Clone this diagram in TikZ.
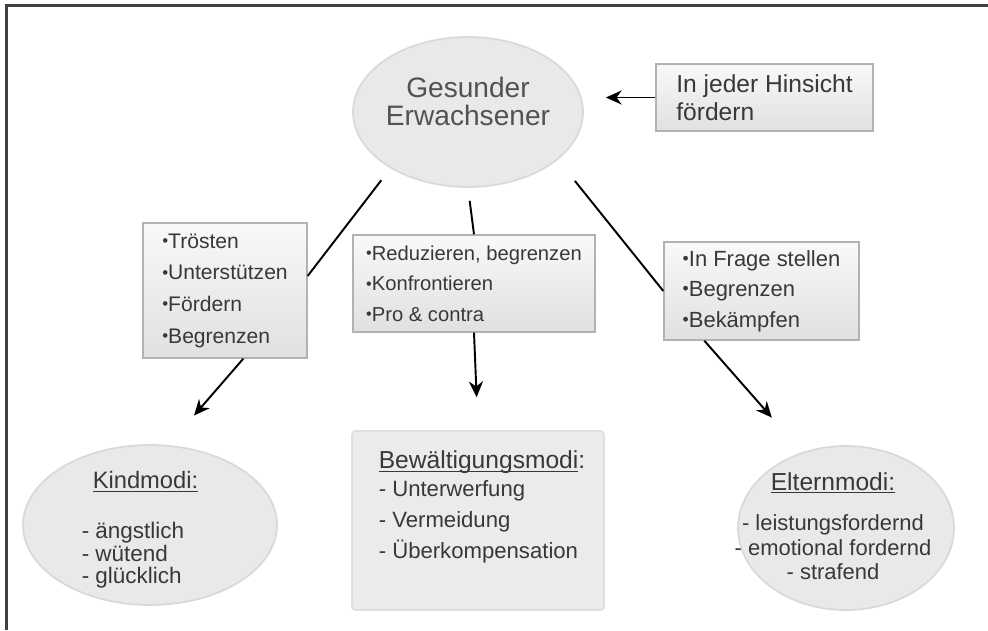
\documentclass[tikz,border=0pt]{standalone}
\usepackage{fontspec}
\setmainfont{Liberation Sans}
\usepackage{tikz}
\usetikzlibrary{
	arrows.meta,
	calc,
	positioning,
	shapes,
	shadows,
	}
\newcommand{\bul}{\raisebox{0.08em}{\scalebox{0.8}{•}}}
\newcommand{\unter}[1]{\underline{\raisebox{0pt}[\height][0pt]{#1}}}

\begin{document}
\begin{tikzpicture}[x=0.02cm, y=-0.02cm,
	blase/.style={draw=gray!30, line width=1pt, fill=gray!17, ellipse},
	kasten/.style={draw=gray!60, line width=0.8pt, top color=gray!5, bottom color=gray!24, align=left, text=black!78,
		drop shadow={shadow xshift=0.6pt, shadow yshift=-0.6pt, fill=black!55, opacity=0.8}},
	schrift/.style={text=black!78, inner sep=0pt},
	linie/.style={-, line width=1.1pt},
	pfeil/.style={-{Stealth[length=9pt, width=8pt]}, line width=1.1pt},
	]
			\useasboundingbox (0,0) rectangle (988,630);
			\draw[black!75, line width=1.2pt] (6.5,630) -- (6.5,5.5) -- (988,5.5);
			\node[blase, minimum width=4.6cm, minimum height=3cm] (ge) at (468,112) {};
			\node[schrift, align=center, font=\fontsize{16}{16}\selectfont, text=black!68] (getext) at ([yshift=0.22cm]ge.center) {Gesunder\\Erwachsener};
			\node[kasten, minimum width=4.34cm, minimum height=1.34cm, font=\fontsize{14}{16}\selectfont] (hin) at (764.5,97.5) {In jeder Hinsicht\\fördern};
			\node[kasten, minimum width=3.28cm, minimum height=2.7cm, font=\fontsize{12}{18}\selectfont] (links) at (225,290.5) {\bul Trösten\\\bul Unterstützen\\\bul Fördern\\\bul Begrenzen};
			\node[kasten, minimum width=4.84cm, minimum height=1.94cm, font=\fontsize{11.5}{17.3}\selectfont] (mitte) at (474,283.5) {\bul Reduzieren, begrenzen\\\bul Konfrontieren\\\bul Pro \& contra};
			\node[kasten, minimum width=3.9cm, minimum height=1.96cm, font=\fontsize{12.5}{17.3}\selectfont] (rechts) at (761.5,291) {\bul In Frage stellen\\\bul Begrenzen\\\bul Bekämpfen};
			\node[blase, minimum width=5.08cm, minimum height=3.2cm] (kind) at (150,525) {};
			\node[schrift, align=left, font=\fontsize{12.8}{12.8}\selectfont] (kindtext) at ([xshift=-0.2cm, yshift=-0.1cm]kind.center) {\hspace*{0.22cm}{\fontsize{13.5}{12.8}\selectfont\unter{Kindmodi:}}\\[15.5pt]- ängstlich\\- wütend\\- glücklich};
			\node[draw=gray!25, line width=1pt, fill=gray!16, rounded corners=2pt, minimum width=5.04cm, minimum height=3.58cm] (bew) at (478,520.5) {};
			\node[schrift, align=left, font=\fontsize{12.6}{17.6}\selectfont] (bewtext) at ([xshift=0.08cm, yshift=0.27cm]bew.center) {{\fontsize{14}{17.6}\selectfont\unter{Bewältigungsmodi}:}\\[-1.7pt]- Unterwerfung\\- Vermeidung\\- Überkompensation};
			\node[blase, minimum width=4.32cm, minimum height=3.28cm] (eltern) at (846,528) {};
			\node[schrift, align=center, font=\fontsize{12.5}{13.9}\selectfont] (elterntext) at ([xshift=-0.26cm, yshift=0.04cm]eltern.center) {{\fontsize{14}{13.9}\selectfont\unter{Elternmodi:}}\\[9.3pt]- leistungsfordernd\\- emotional fordernd\\- strafend};
			\draw[pfeil, shorten >=0.44cm] (hin.west) -- (ge.east |- hin.west);
			\draw[linie, shorten <=0.3cm] (ge.216) -- (links.10);
			\draw[linie, shorten <=0.26cm] (ge.south) -- (mitte.north);
			\draw[linie, shorten <=0.54cm] (ge.-28) -- (rechts.west);
			\draw[pfeil, shorten >=0.78cm] (links.-75) -- (kind.77);
			\draw[pfeil, shorten >=0.66cm] (mitte.south) -- (bew.north);
			\draw[pfeil, shorten >=0.92cm] (rechts.221) -- (eltern.120);
		\end{tikzpicture}
\end{document}
